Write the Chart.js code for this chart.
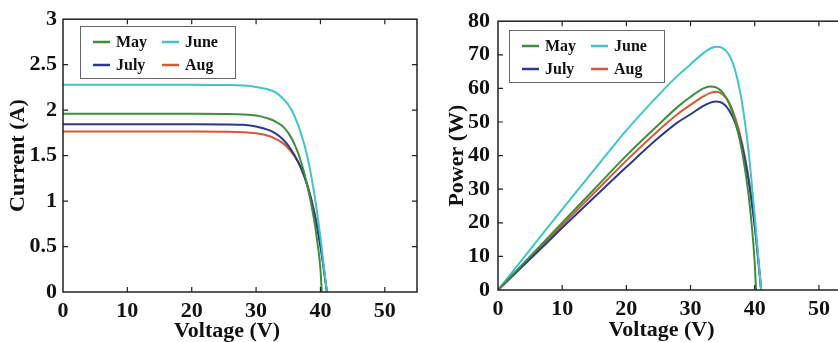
<!DOCTYPE html>
<html>
<head>
<meta charset="utf-8">
<script src="https://cdn.jsdelivr.net/npm/chart.js@4.4.1/dist/chart.umd.min.js"></script>
<style>
  html, body { margin: 0; padding: 0; background: #fff; overflow: hidden; width: 838px; height: 342px; }
  #graficoCorriente { position: absolute; left: 0; top: 0; }
  #graficoPotencia { position: absolute; left: 420px; top: 0; }
</style>
</head>
<body>
<canvas id="graficoCorriente" width="420" height="342"></canvas>
<canvas id="graficoPotencia" width="440" height="342"></canvas>
<script>
// Datos
const meses = ['May', 'June', 'July', 'Aug'];

const voltajeMay = [0, 5, 10, 15, 20, 25, 28, 30, 32, 33, 34, 35, 36, 37, 38, 39, 39.5, 40, 40.2];
const voltajeResto = [0, 5, 10, 15, 20, 25, 28, 30, 32, 33, 34, 35, 36, 37, 38, 39, 40, 40.5, 41];

// Corriente (A)
const corrienteMay = [1.96, 1.96, 1.96, 1.96, 1.96, 1.958, 1.953, 1.94, 1.905, 1.875, 1.83, 1.75, 1.62, 1.43, 1.16, 0.8, 0.56, 0.25, 0];
const corrienteJune = [2.28, 2.28, 2.28, 2.28, 2.28, 2.276, 2.27, 2.255, 2.225, 2.195, 2.14, 2.06, 1.93, 1.74, 1.48, 1.1, 0.6, 0.3, 0];
const corrienteJuly = [1.845, 1.845, 1.845, 1.845, 1.845, 1.843, 1.838, 1.82, 1.78, 1.745, 1.69, 1.61, 1.5, 1.36, 1.16, 0.88, 0.5, 0.26, 0];
const corrienteAug = [1.765, 1.765, 1.765, 1.765, 1.765, 1.763, 1.758, 1.745, 1.715, 1.685, 1.645, 1.58, 1.49, 1.36, 1.17, 0.9, 0.52, 0.27, 0];

// Potencia (W)
const potenciaMay = [0, 10, 20, 30, 40, 49.2, 54.5, 57.5, 60, 60.6, 60.3, 58.8, 55.5, 50, 41.5, 29, 20, 8, 0];
const potenciaJune = [0, 12, 24, 35.8, 47.5, 58, 63.8, 67.2, 70.5, 71.8, 72.4, 72, 70, 65, 56, 42, 22, 11, 0];
const potenciaJuly = [0, 9.2, 18.5, 27.6, 36.6, 45.3, 49.9, 52.3, 54.8, 55.7, 56.1, 55.6, 53.5, 49.5, 43, 33, 19, 10, 0];
const potenciaAug = [0, 9.6, 19.3, 28.9, 38.5, 47.5, 52.4, 55.1, 57.6, 58.6, 59, 58.2, 55.8, 51, 44, 34, 19.5, 10, 0];

// Marcas de los ejes
const ticksVoltaje = [0, 10, 20, 30, 40, 50];
const ticksCorriente = [0, 0.5, 1, 1.5, 2, 2.5, 3];
const ticksPotencia = [0, 10, 20, 30, 40, 50, 60, 70, 80];

const colores = ['#3c8f3c', '#3ec6c8', '#2b3a8c', '#d4593a'];
const fuente = '"Liberation Serif", "Times New Roman", serif';

function puntos(xs, ys) {
    return xs.map(function (x, i) { return { x: x, y: ys[i] }; });
}

function crearSeries(valores) {
    return meses.map(function (mes, i) {
        return {
            label: mes,
            data: puntos(i === 0 ? voltajeMay : voltajeResto, valores[i]),
            borderColor: colores[i],
            borderWidth: 2,
            pointRadius: 0,
            fill: false,
            cubicInterpolationMode: 'monotone'
        };
    });
}

// Marco tipo MATLAB con marcas hacia dentro
const marcoPlugin = {
    id: 'marco',
    afterDatasetsDraw(chart) {
        const ctx = chart.ctx;
        const a = chart.chartArea;
        const sx = chart.scales.x;
        const sy = chart.scales.y;
        ctx.save();
        ctx.strokeStyle = '#222';
        ctx.lineWidth = 1.2;
        ctx.beginPath();
        sx.ticks.forEach(function (t) {
            const px = sx.getPixelForValue(t.value);
            if (px <= a.left + 1 || px >= a.right - 1) return;
            ctx.moveTo(px, a.bottom); ctx.lineTo(px, a.bottom - 5);
            ctx.moveTo(px, a.top); ctx.lineTo(px, a.top + 5);
        });
        sy.ticks.forEach(function (t) {
            const py = sy.getPixelForValue(t.value);
            if (py <= a.top + 1 || py >= a.bottom - 1) return;
            ctx.moveTo(a.left, py); ctx.lineTo(a.left + 5, py);
            ctx.moveTo(a.right, py); ctx.lineTo(a.right - 5, py);
        });
        ctx.stroke();
        ctx.lineWidth = 1.5;
        ctx.strokeRect(a.left, a.top, a.right - a.left, a.bottom - a.top);
        ctx.restore();
    }
};

// Titulo del eje X, algo desplazado a la izquierda como en la figura
const tituloXPlugin = {
    id: 'tituloX',
    afterDraw(chart, args, opts) {
        const ctx = chart.ctx;
        const a = chart.chartArea;
        ctx.save();
        ctx.font = 'bold 22px ' + fuente;
        ctx.fillStyle = '#111';
        ctx.textAlign = 'center';
        ctx.textBaseline = 'middle';
        ctx.fillText(opts.texto, (a.left + a.right) / 2 + opts.dx, opts.y);
        ctx.restore();
    }
};

// Leyenda dentro del area del grafico, en dos columnas
const leyendaPlugin = {
    id: 'leyenda',
    afterDraw(chart, args, opts) {
        const ctx = chart.ctx;
        const a = chart.chartArea;
        const x0 = Math.round(a.left + opts.dx);
        const y0 = Math.round(a.top + opts.dy);
        ctx.save();
        ctx.fillStyle = '#fff';
        ctx.fillRect(x0, y0, 155, 52);
        ctx.strokeStyle = '#666';
        ctx.lineWidth = 1;
        ctx.strokeRect(x0 + 0.5, y0 + 0.5, 155, 52);
        ctx.font = 'bold 16px ' + fuente;
        ctx.textBaseline = 'middle';
        chart.data.datasets.forEach(function (ds, i) {
            const cx = x0 + (i % 2) * 69;
            const cy = y0 + 16 + Math.floor(i / 2) * 23;
            ctx.strokeStyle = ds.borderColor;
            ctx.lineWidth = 2.5;
            ctx.beginPath();
            ctx.moveTo(cx + 13, cy);
            ctx.lineTo(cx + 30, cy);
            ctx.stroke();
            ctx.fillStyle = '#111';
            ctx.fillText(ds.label, cx + 36, cy + 1);
        });
        ctx.restore();
    }
};

function crearGrafico(id, series, cfg) {
    const ctx = document.getElementById(id).getContext('2d');
    return new Chart(ctx, {
        type: 'line',
        data: { datasets: series },
        options: {
            responsive: false,
            animation: false,
            events: [],
            layout: { padding: { top: 15, right: cfg.derecha, left: 0, bottom: 0 } },
            plugins: {
                legend: { display: false },
                tooltip: { enabled: false },
                leyenda: { dx: cfg.leyX, dy: cfg.leyY },
                tituloX: { texto: 'Voltage (V)', dx: -13, y: cfg.tituloX }
            },
            scales: {
                x: {
                    type: 'linear',
                    min: 0,
                    max: 55,
                    afterBuildTicks: function (s) { s.ticks = ticksVoltaje.map(function (v) { return { value: v }; }); },
                    afterFit: function (s) { s.height = cfg.altoX; },
                    grid: { display: false, drawTicks: false },
                    border: { display: false },
                    ticks: {
                        color: '#111', padding: 6, maxRotation: 0, autoSkip: false,
                        font: { family: fuente, size: 22, weight: 'bold' },
                        callback: function (v) { return String(v); }
                    }
                },
                y: {
                    type: 'linear',
                    min: 0,
                    max: cfg.maxY,
                    afterBuildTicks: function (s) { s.ticks = cfg.ticksY.map(function (v) { return { value: v }; }); },
                    afterFit: function (s) { s.width = cfg.anchoY; },
                    grid: { display: false, drawTicks: false },
                    border: { display: false },
                    ticks: {
                        color: '#111', padding: cfg.padY, autoSkip: false,
                        font: { family: fuente, size: 22, weight: 'bold' },
                        callback: function (v) { return String(v); }
                    },
                    title: {
                        display: true, text: cfg.tituloY, color: '#111',
                        font: { family: fuente, size: 22, weight: 'bold' },
                        padding: { top: cfg.tituloYPad, bottom: 0 }
                    }
                }
            }
        },
        plugins: [marcoPlugin, tituloXPlugin, leyendaPlugin]
    });
}

document.addEventListener('DOMContentLoaded', function () {
    crearGrafico('graficoCorriente',
        crearSeries([corrienteMay, corrienteJune, corrienteJuly, corrienteAug]),
        { maxY: 3, ticksY: ticksCorriente, tituloY: 'Current (A)', anchoY: 63, altoX: 50,
          derecha: 3, padY: 6, tituloX: 331, tituloYPad: 5, leyX: 17, leyY: 7 });

    crearGrafico('graficoPotencia',
        crearSeries([potenciaMay, potenciaJune, potenciaJuly, potenciaAug]),
        { maxY: 80, ticksY: ticksPotencia, tituloY: 'Power (W)', anchoY: 78, altoX: 52,
          derecha: 9, padY: 8, tituloX: 330, tituloYPad: 24, leyX: 11, leyY: 9 });
});
</script>
</body>
</html>
